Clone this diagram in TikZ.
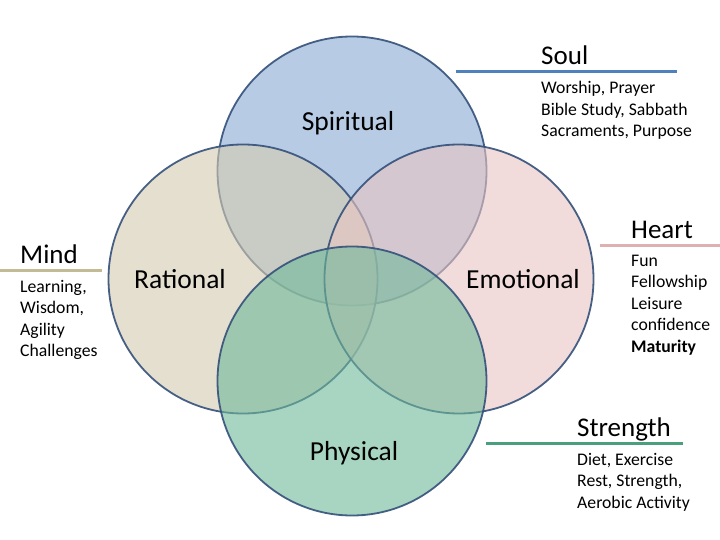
\documentclass[tikz,border=0pt]{standalone}
\usepackage{fontspec}
\setmainfont{Carlito}
\definecolor{cSpirit}{RGB}{135,170,210}
\definecolor{cRation}{RGB}{213,203,177}
\definecolor{cEmot}{RGB}{233,197,195}
\definecolor{cPhys}{RGB}{110,185,153}
\definecolor{cEdge}{RGB}{52,80,122}
\definecolor{cSoul}{RGB}{79,129,189}
\definecolor{cHeart}{RGB}{222,176,175}
\definecolor{cMind}{RGB}{196,186,150}
\definecolor{cStrength}{RGB}{72,160,125}
\begin{document}
\begin{tikzpicture}[x=1pt,y=-1pt,
  venn/.style={circle, draw=cEdge, line width=1.8pt, minimum size=269pt, inner sep=0pt, fill opacity=0.6, draw opacity=0.9},
  clabel/.style={font=\fontsize{27.5}{33}\selectfont, inner sep=0pt, text=black},
  head/.style={font=\fontsize{27}{32}\selectfont, inner sep=0pt, anchor=base west},
  bodytext/.style={font=\fontsize{17.7}{21.5}\selectfont, inner sep=0pt, anchor=base west},
  rule/.style={line width=3pt}
]
\useasboundingbox (0,0) rectangle (720,540);
\fill[white] (0,0) rectangle (720,540);

% circles
\node[venn, fill=cSpirit] (spiritual) at (352,171) {};
\node[venn, fill=cRation] (rational) at (243,279) {};
\node[venn, fill=cEmot] (emotional) at (459,279) {};
\node[venn, fill=cPhys] (physical) at (352,381) {};

% circle labels
\node[clabel] (lspiritual) at (348,123) {Spiritual};
\node[clabel] (lrational) at (180,279) {Rational};
\node[clabel] (lemotional) at (523,279) {Emotional};
\node[clabel] (lphysical) at (354,453) {Physical};

% Soul
\coordinate (soulL) at (456,72);
\coordinate (soulR) at (677,72);
\draw[rule, draw=cSoul] (soulL) -- (soulR);
\node[head] (soul) at (541,65) {Soul};
\node[bodytext] (soul1) at (541,94) {Worship, Prayer};
\node[bodytext] (soul2) at (541,115.5) {Bible Study, Sabbath};
\node[bodytext] (soul3) at (541,137) {Sacraments, Purpose};

% Heart
\coordinate (heartL) at (600,245);
\coordinate (heartR) at (720,245);
\draw[rule, draw=cHeart] (heartL) -- (heartR);
\node[head] (heart) at (631,238) {Heart};
\node[bodytext] (heart1) at (631,266) {Fun};
\node[bodytext] (heart2) at (631,287.5) {Fellowship};
\node[bodytext] (heart3) at (631,309) {Leisure};
\node[bodytext] (heart4) at (631,330.5) {confidence};
\node[bodytext] (heart5) at (631,352) {\bfseries Maturity};

% Mind
\coordinate (mindL) at (0,270);
\coordinate (mindR) at (102,270);
\draw[rule, draw=cMind] (mindL) -- (mindR);
\node[head] (mind) at (20,263) {Mind};
\node[bodytext] (mind1) at (20,292) {Learning,};
\node[bodytext] (mind2) at (20,313.5) {Wisdom,};
\node[bodytext] (mind3) at (20,335) {Agility};
\node[bodytext] (mind4) at (20,356.5) {Challenges};

% Strength
\coordinate (strL) at (486,443);
\coordinate (strR) at (683,443);
\draw[rule, draw=cStrength] (strL) -- (strR);
\node[head] (strength) at (577,436) {Strength};
\node[bodytext] (str1) at (577,465) {Diet, Exercise};
\node[bodytext] (str2) at (577,486.5) {Rest, Strength,};
\node[bodytext] (str3) at (577,508) {Aerobic Activity};
\end{tikzpicture}
\end{document}
